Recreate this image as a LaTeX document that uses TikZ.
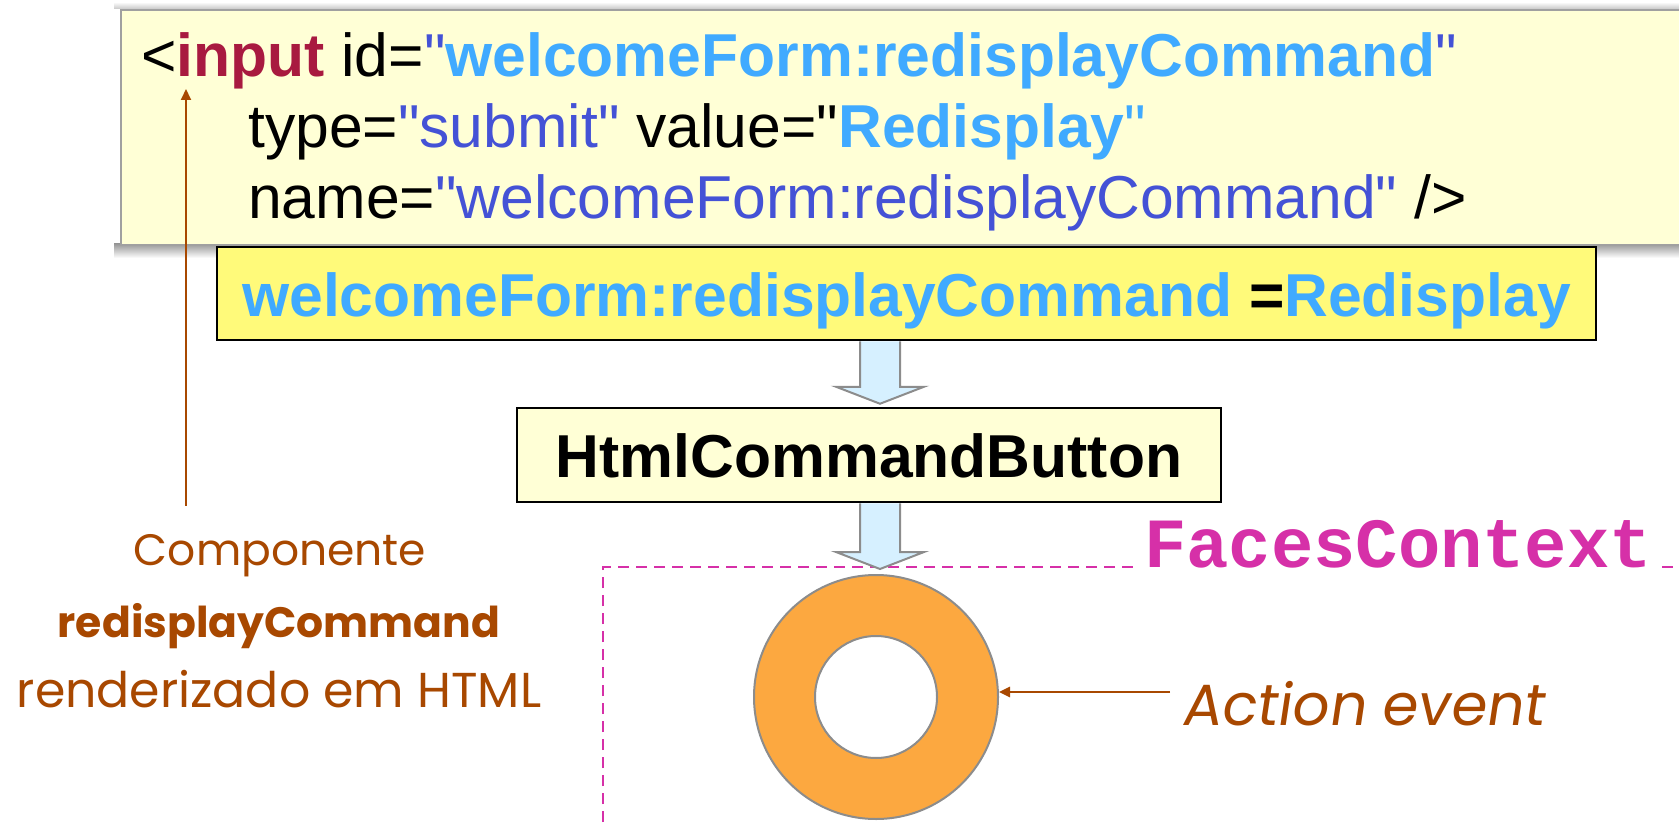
\documentclass[tikz,border=0pt]{standalone}
\usepackage{fontspec}
\setmainfont{Liberation Sans}[Ligatures=TeXOff]
\newfontfamily\codemono{Liberation Mono}
\newfontfamily\hand{Poppins}
\newfontfamily\handslant[FakeSlant=0.15]{Poppins}
\usetikzlibrary{arrows.meta,calc}

\definecolor{codefill}{RGB}{255,255,214}
\definecolor{codeborder}{RGB}{160,160,160}
\definecolor{valfill}{RGB}{255,250,122}
\definecolor{valblue}{RGB}{64,170,255}
\definecolor{attrblue}{RGB}{68,82,214}
\definecolor{tagred}{RGB}{168,26,64}
\definecolor{arrowfill}{RGB}{214,240,255}
\definecolor{arrowedge}{RGB}{140,140,140}
\definecolor{ringfill}{RGB}{252,168,64}
\definecolor{ringedge}{RGB}{140,140,140}
\definecolor{ctxpink}{RGB}{214,48,168}
\definecolor{notebrown}{RGB}{168,72,0}

\tikzset{
  codebox/.style={draw=codeborder, line width=2pt, fill=codefill, inner sep=0pt},
  codeline/.style={anchor=base west, inner sep=0pt, font=\fontsize{60.6}{70}\selectfont},
  valbox/.style={draw=black, line width=2.5pt, fill=valfill, minimum width=1379pt,
    minimum height=93pt, inner sep=0pt, text height=45pt, text depth=0pt,
    font=\bfseries\fontsize{60.6}{70}\selectfont, text=valblue},
  classbox/.style={draw=black, line width=2.5pt, fill=codefill, minimum width=704pt,
    minimum height=94pt, inner sep=0pt, text height=44pt, text depth=0pt,
    font=\bfseries\fontsize{60.6}{70}\selectfont},
  note/.style={anchor=base, inner sep=0pt, text=notebrown},
  pointer/.style={draw=notebrown, line width=2pt, -{Triangle[length=11pt,width=10pt]}},
  context/.style={draw=ctxpink, line width=2.5pt, dash pattern=on 11pt off 7pt},
  ringstyle/.style={circle, draw=ringedge, line width=2pt, inner sep=0pt},
}

% hollow block arrow between two anchors: #1 start, #2 target, #3 gap before target
\newcommand\blockarrow[3]{%
  \path[fill=arrowfill] let \p1=#1, \p2=#2 in
    (\x2-20pt,\y1) -- (\x2-20pt,\y2+#3+17pt) -- (\x2-44pt,\y2+#3+17pt) -- (\x2,\y2+#3)
    -- (\x2+44pt,\y2+#3+17pt) -- (\x2+20pt,\y2+#3+17pt) -- (\x2+20pt,\y1) -- cycle;
  \path[draw=arrowedge, line width=2pt, line join=miter] let \p1=#1, \p2=#2 in
    (\x2-20pt,\y1) -- (\x2-20pt,\y2+#3+17pt) -- (\x2-44pt,\y2+#3+17pt) -- (\x2,\y2+#3)
    -- (\x2+44pt,\y2+#3+17pt) -- (\x2+20pt,\y2+#3+17pt) -- (\x2+20pt,\y1);
}

\begin{document}
\begin{tikzpicture}[x=1pt, y=-1pt]
\useasboundingbox (0,0) rectangle (1679,829);
\fill[white] (0,0) rectangle (1679,829);
\clip (0,0) rectangle (1679,829);

% soft shadow around the HTML source panel
\shade[top color=white, bottom color=black!22] (114,2) rectangle (1679,9);
\shade[top color=black!40, bottom color=white] (114,244) rectangle (1679,258);

% HTML source panel
\node[codebox, anchor=north west, minimum width=1600pt, minimum height=235pt] (code) at (120,9) {};
\node[codeline] (l1) at (141,77) {<\textcolor{tagred}{\bfseries input} id=\textcolor{attrblue}{"}\textcolor{valblue}{\bfseries welcomeForm:redisplayCommand}\textcolor{attrblue}{"}};
\node[codeline] (l2) at (248,148) {type=\textcolor{attrblue}{"submit"} value="\textcolor{valblue}{\bfseries Redisplay}\textcolor{valblue}{"}};
\node[codeline] (l3) at (248,219) {name=\textcolor{attrblue}{"welcomeForm:redisplayCommand"} />};

% request parameter
\node[valbox] (val) at (906.5,293.5) {welcomeForm:redisplayCommand \textcolor{black}{=}Redisplay};

% component
\node[classbox] (btn) at (869,455) {HtmlCommandButton};

% FacesContext region
\node[anchor=base west, inner sep=0pt, text=ctxpink,
      font=\codemono\bfseries\fontsize{70.5}{80}\selectfont] (fc) at (1144,567) {FacesContext};
\coordinate (ctxCorner) at (603,567);
\coordinate (ctxBottom) at (603,840);
\coordinate (ctxRight) at (1700,567);
\draw[context] (ctxBottom) -- (ctxCorner) -- ([xshift=-5pt]fc.base west);
\draw[context] ([xshift=10pt]fc.base east) -- (ctxRight);

% action event ring
\node[ringstyle, fill=ringfill, minimum size=244pt] (ring) at (876,697) {};
\node[ringstyle, fill=white, minimum size=122pt] (hole) at (ring.center) {};

% flow arrows
\coordinate (axis) at (880,0);
\blockarrow{(val.south -| axis)}{(btn.north -| axis)}{3pt}
\blockarrow{(btn.south -| axis)}{(ring.north -| axis)}{5pt}

% annotations
\node[note, font=\hand\fontsize{44}{50}\selectfont] (lblA) at (280,565) {Componente};
\node[note, font=\hand\bfseries\fontsize{42.5}{50}\selectfont] (lblB) at (279,637) {redisplayCommand};
\node[note, font=\hand\fontsize{49}{55}\selectfont] (lblC) at (279,707) {renderizado em HTML};
\coordinate (tagTip) at (186,89);
\draw[pointer] ([yshift=28pt]lblA.north -| tagTip) -- (tagTip);

\node[anchor=base west, inner sep=0pt, text=notebrown,
      font=\handslant\fontsize{58}{64}\selectfont] (act) at (1181,725) {Action event};
\coordinate (actFrom) at (1170,692);
\draw[pointer, line width=2.5pt] (actFrom) -- (actFrom -| ring.east);
\end{tikzpicture}
\end{document}
